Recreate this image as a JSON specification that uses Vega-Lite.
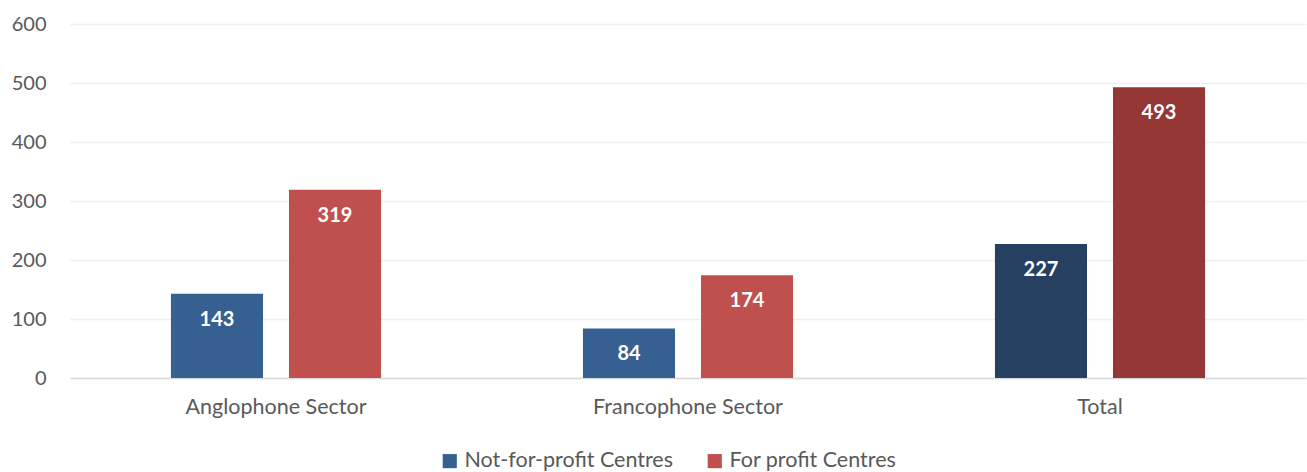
{
  "$schema": "https://vega.github.io/schema/vega-lite/v6.json",
  "autosize": "none",
  "width": 1236,
  "height": 354,
  "padding": {"left": 70, "top": 24, "right": 1, "bottom": 94},
  "background": "white",
  "config": {
    "font": "Lato",
    "view": {"stroke": null}
  },
  "data": {
    "values": [
      {"sector": "Anglophone Sector", "series": "Not-for-profit Centres", "shade": "Not-for-profit Centres", "centres": 143},
      {"sector": "Anglophone Sector", "series": "For profit Centres", "shade": "For profit Centres", "centres": 319},
      {"sector": "Francophone Sector", "series": "Not-for-profit Centres", "shade": "Not-for-profit Centres", "centres": 84},
      {"sector": "Francophone Sector", "series": "For profit Centres", "shade": "For profit Centres", "centres": 174},
      {"sector": "Total", "series": "Not-for-profit Centres", "shade": "Not-for-profit Centres (Total)", "centres": 227},
      {"sector": "Total", "series": "For profit Centres", "shade": "For profit Centres (Total)", "centres": 493}
    ]
  },
  "encoding": {
    "x": {
      "field": "sector",
      "type": "nominal",
      "sort": null,
      "scale": {"paddingInner": 0.49, "paddingOuter": 0.245},
      "axis": {
        "title": null,
        "labelAngle": 0,
        "labelFontSize": 21.5,
        "labelLimit": 400,
        "labelColor": "#595959",
        "labelPadding": 18,
        "ticks": false,
        "domainColor": "#d9d9d9",
        "domainWidth": 1.5
      }
    },
    "xOffset": {
      "field": "series",
      "type": "nominal",
      "sort": ["Not-for-profit Centres", "For profit Centres"],
      "scale": {"paddingInner": 0.22, "paddingOuter": 0}
    },
    "y": {
      "field": "centres",
      "type": "quantitative",
      "scale": {"domain": [0, 600]},
      "axis": {
        "title": null,
        "values": [0, 100, 200, 300, 400, 500, 600],
        "labelFontSize": 20,
        "labelColor": "#595959",
        "labelPadding": 24,
        "ticks": false,
        "domain": false,
        "gridColor": "#efefef",
        "gridWidth": 1.5
      }
    }
  },
  "layer": [
    {
      "mark": {"type": "bar"},
      "encoding": {
        "color": {
          "field": "shade",
          "type": "nominal",
          "scale": {
            "domain": ["Not-for-profit Centres", "For profit Centres", "Not-for-profit Centres (Total)", "For profit Centres (Total)"],
            "range": ["#376092", "#c0504d", "#254061", "#953735"]
          },
          "legend": {
            "title": null,
            "orient": "none",
            "legendX": 369,
            "legendY": 426,
            "direction": "horizontal",
            "values": ["Not-for-profit Centres", "For profit Centres"],
            "symbolType": "square",
            "symbolSize": 200,
            "symbolStrokeWidth": 0,
            "labelFontSize": 21.5,
            "labelColor": "#595959",
            "labelLimit": 300,
            "columnPadding": 30,
            "labelOffset": 4
          }
        }
      }
    },
    {
      "mark": {"type": "text", "baseline": "middle", "dy": 26, "fontWeight": "bold", "fontSize": 20, "color": "white"},
      "encoding": {
        "text": {"field": "centres", "type": "quantitative"}
      }
    }
  ]
}
